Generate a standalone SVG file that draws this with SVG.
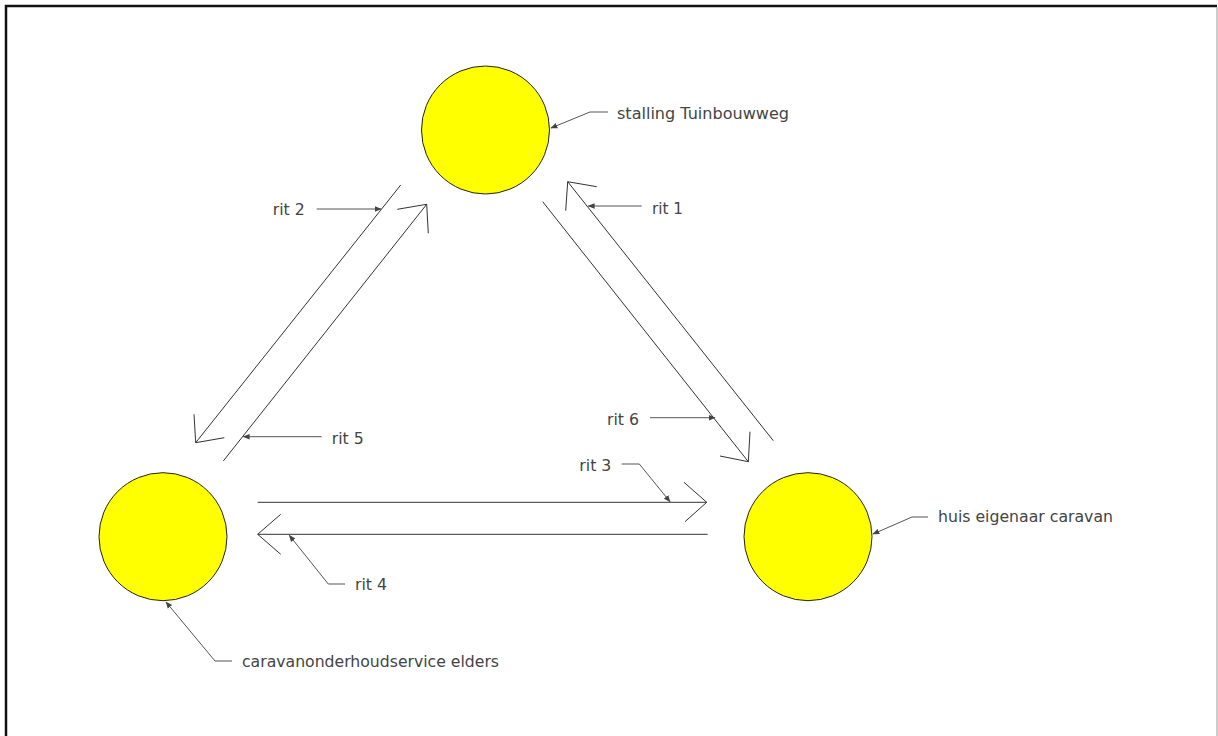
<svg xmlns="http://www.w3.org/2000/svg" width="1218" height="736" viewBox="0 0 1218 736">
<defs>
<style>
.node{fill:#ffff00;stroke:#222;stroke-width:1}
.ln{stroke:#333;stroke-width:1;fill:none}
.ld{stroke:#555;stroke-width:1;fill:none}
.t{font-family:"DejaVu Sans",Verdana,sans-serif;font-size:16px;fill:#444}
</style>
<marker id="ah" viewBox="0 0 10 10" refX="9" refY="5" markerWidth="7" markerHeight="7" orient="auto" markerUnits="userSpaceOnUse">
<path d="M0,1 L10,5 L0,9 z" fill="#444"/>
</marker>
</defs>
<rect x="0" y="0" width="1218" height="736" fill="#fff"/>
<path d="M6,740 V6 H1217" fill="none" stroke="#111" stroke-width="2.5"/>
<line x1="1217" y1="7" x2="1217" y2="736" stroke="#bbb" stroke-width="1.5"/>

<g id="node-stalling">
<circle class="node" cx="485.5" cy="130" r="64"/>
<path class="ld" d="M608,112 H590 L551,128" marker-end="url(#ah)"/>
<text class="t" x="617" y="119" textLength="172" lengthAdjust="spacingAndGlyphs">stalling Tuinbouwweg</text>
</g>
<g id="node-service">
<circle class="node" cx="163" cy="536.7" r="64"/>
<path class="ld" d="M232,661 H215 L166,602" marker-end="url(#ah)"/>
<text class="t" x="242" y="667" textLength="257" lengthAdjust="spacingAndGlyphs">caravanonderhoudservice elders</text>
</g>
<g id="node-huis">
<circle class="node" cx="808" cy="536.7" r="64"/>
<path class="ld" d="M928,517 H912 L873,534" marker-end="url(#ah)"/>
<text class="t" x="938" y="522" textLength="175" lengthAdjust="spacingAndGlyphs">huis eigenaar caravan</text>
</g>

<g id="connectors">
<!-- rit 1 -->
<line class="ln" x1="773.3" y1="440.7" x2="567.7" y2="181.7"/>
<path class="ln" d="M596.7,186.7 L567.7,181.7 L565.7,210.7"/>
<!-- rit 6 -->
<line class="ln" x1="542.7" y1="201.7" x2="748.3" y2="461.7"/>
<path class="ln" d="M720,456 L748.3,461.7 L750,431.7"/>
<!-- rit 2 -->
<line class="ln" x1="400.7" y1="185" x2="195.7" y2="442.7"/>
<path class="ln" d="M194,414.3 L195.7,442.7 L224.3,437.7"/>
<!-- rit 5 -->
<line class="ln" x1="223.3" y1="461" x2="426.7" y2="204.3"/>
<path class="ln" d="M397.3,209.3 L426.7,204.3 L428.3,233.3"/>
<!-- rit 3 -->
<line class="ln" x1="257.7" y1="502.3" x2="706.7" y2="502.3" stroke="#111"/>
<path class="ln" d="M684,482.3 L706.7,502.3 L685,521.7"/>
<!-- rit 4 -->
<line class="ln" x1="257.7" y1="534.3" x2="707.7" y2="534.3" stroke="#555" stroke-width="1.5"/>
<path class="ln" d="M280.7,514.3 L257.7,534.3 L280.7,554.3"/>
</g>

<g id="labels">
<g id="label-rit1">
<path class="ld" d="M641.7,206 H588.3" marker-end="url(#ah)"/>
<text class="t" x="652" y="214" textLength="31" lengthAdjust="spacingAndGlyphs">rit 1</text>
</g>
<g id="label-rit2">
<path class="ld" d="M316.7,209 H381" marker-end="url(#ah)"/>
<text class="t" x="272.7" y="215" textLength="32" lengthAdjust="spacingAndGlyphs">rit 2</text>
</g>
<g id="label-rit5">
<path class="ld" d="M321.7,436.7 H243.3" marker-end="url(#ah)"/>
<text class="t" x="331.7" y="444" textLength="32" lengthAdjust="spacingAndGlyphs">rit 5</text>
</g>
<g id="label-rit6">
<path class="ld" d="M650,417.7 H715" marker-end="url(#ah)"/>
<text class="t" x="607" y="425" textLength="32" lengthAdjust="spacingAndGlyphs">rit 6</text>
</g>
<g id="label-rit3">
<path class="ld" d="M621.7,464 H639.3 L670,501.7" marker-end="url(#ah)"/>
<text class="t" x="579.3" y="471" textLength="32" lengthAdjust="spacingAndGlyphs">rit 3</text>
</g>
<g id="label-rit4">
<path class="ld" d="M345,584 H328.3 L289.3,535.3" marker-end="url(#ah)"/>
<text class="t" x="355" y="590" textLength="32" lengthAdjust="spacingAndGlyphs">rit 4</text>
</g>
</g>
</svg>
